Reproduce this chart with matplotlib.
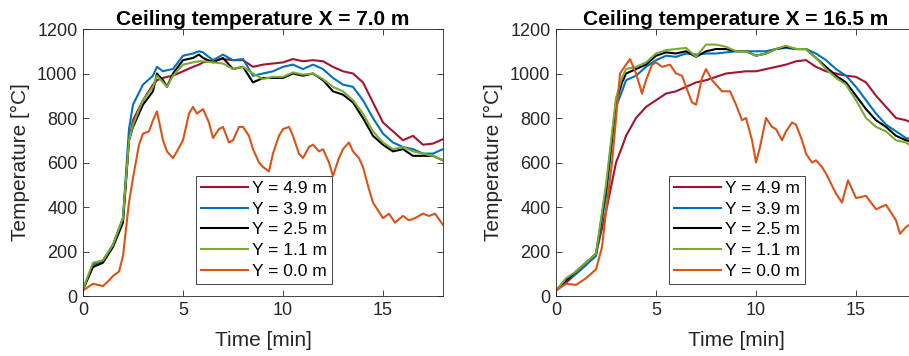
import matplotlib.pyplot as plt

plt.rcParams['font.family'] = ['Liberation Sans', 'DejaVu Sans']

# series labels and colours (MATLAB default palette)
labels = ['Y = 4.9 m', 'Y = 3.9 m', 'Y = 2.5 m', 'Y = 1.1 m', 'Y = 0.0 m']
colors = ['#A2142F', '#0072BD', '#000000', '#77AC30', '#D95319']

# ---- X = 7.0 m ----
t_a = [0, 0.5, 1, 1.5, 2, 2.3, 2.5, 3, 3.5, 3.7, 4, 4.2, 4.5, 5, 5.5, 5.8, 6, 6.5, 7, 7.5, 8, 8.5,
       9, 9.5, 10, 10.5, 11, 11.5, 12, 12.5, 13, 13.5, 14, 14.5, 15, 15.5, 16, 16.5, 17, 17.5, 18]
a_49 = [30, 140, 160, 230, 350, 700, 790, 880, 950, 970, 980, 985, 990, 1010, 1030, 1040, 1050, 1060, 1065, 1060, 1060, 1030,
        1040, 1045, 1050, 1065, 1055, 1060, 1055, 1030, 1010, 1000, 960, 870, 780, 740, 700, 720, 680, 685, 705]
a_39 = [30, 140, 160, 230, 350, 750, 860, 950, 990, 1030, 1010, 1015, 1020, 1080, 1090, 1100, 1095, 1060, 1085, 1060, 1065, 990,
        1000, 1010, 1030, 1040, 1020, 1040, 1020, 980, 950, 940, 880, 800, 730, 690, 670, 660, 640, 640, 660]
a_25 = [30, 130, 150, 220, 330, 700, 760, 860, 920, 1000, 970, 940, 1000, 1060, 1070, 1085, 1070, 1050, 1070, 1020, 1030, 960,
        980, 980, 980, 1000, 990, 1000, 970, 920, 905, 870, 800, 720, 680, 650, 660, 630, 630, 630, 610]
a_11 = [30, 150, 160, 230, 350, 700, 770, 880, 940, 990, 960, 940, 990, 1040, 1050, 1055, 1055, 1050, 1045, 1020, 1030, 1000,
        975, 985, 985, 1005, 995, 1000, 975, 940, 920, 880, 820, 740, 690, 660, 670, 650, 640, 630, 610]
t_a0 = [0, 0.5, 1, 1.3, 1.5, 1.8, 2, 2.3, 2.5, 2.8, 3, 3.3, 3.5, 3.7, 4, 4.2, 4.5, 4.7, 5, 5.3, 5.5, 5.7, 6,
        6.3, 6.5, 6.8, 7, 7.3, 7.5, 7.8, 8, 8.3, 8.5, 8.8, 9, 9.3, 9.5, 9.8, 10, 10.3, 10.5, 10.8, 11,
        11.3, 11.5, 11.8, 12, 12.3, 12.5, 12.8, 13, 13.3, 13.5, 13.8, 14, 14.3, 14.5, 15, 15.3, 15.6, 16,
        16.3, 16.6, 17, 17.3, 17.6, 18]
a_00 = [25, 55, 45, 70, 90, 110, 180, 420, 530, 680, 730, 740, 790, 830, 700, 650, 620, 650, 700, 820, 850, 820, 840,
        780, 710, 750, 760, 690, 700, 760, 760, 720, 660, 600, 580, 560, 640, 720, 750, 760, 720, 640, 620,
        670, 680, 650, 660, 600, 540, 620, 660, 690, 650, 620, 580, 480, 420, 350, 370, 330, 360,
        340, 350, 370, 360, 370, 320]

# ---- X = 16.5 m ----
t_b = [0, 0.5, 1, 1.5, 2, 2.5, 3, 3.3, 3.5, 4, 4.5, 5, 5.5, 6, 6.5, 7, 7.5, 8, 8.5, 9, 9.5, 10,
       10.5, 11, 11.5, 12, 12.5, 13, 13.5, 14, 14.5, 15, 15.5, 16, 16.5, 17, 17.5, 18]
b_49 = [25, 60, 100, 140, 190, 380, 600, 670, 720, 800, 850, 880, 910, 920, 940, 960, 970, 985, 1000, 1005, 1010, 1010,
        1020, 1030, 1040, 1055, 1060, 1030, 1010, 1000, 990, 985, 960, 900, 850, 800, 790, 770]
b_39 = [25, 70, 100, 140, 180, 450, 850, 920, 970, 990, 1030, 1060, 1080, 1075, 1090, 1085, 1090, 1090, 1095, 1100, 1100, 1100,
        1100, 1110, 1115, 1110, 1110, 1090, 1060, 1020, 990, 940, 880, 820, 770, 740, 710, 700]
b_25 = [25, 70, 110, 150, 190, 480, 870, 960, 1000, 1020, 1040, 1080, 1095, 1090, 1100, 1075, 1100, 1110, 1110, 1100, 1100, 1080,
        1090, 1110, 1120, 1110, 1110, 1070, 1030, 990, 960, 900, 840, 790, 760, 720, 700, 690]
b_11 = [25, 80, 110, 150, 190, 500, 890, 980, 1020, 1030, 1050, 1090, 1105, 1110, 1115, 1075, 1130, 1130, 1120, 1100, 1100, 1080,
        1090, 1110, 1125, 1110, 1110, 1070, 1020, 980, 950, 880, 800, 760, 740, 700, 690, 660]
t_b0 = [0, 0.5, 1, 1.5, 2, 2.3, 2.5, 2.8, 3, 3.2, 3.5, 3.7, 4, 4.3, 4.5, 4.8, 5, 5.3, 5.7, 6, 6.3, 6.5,
        6.8, 7, 7.3, 7.5, 7.8, 8, 8.3, 8.7, 9, 9.3, 9.5, 9.8, 10, 10.2, 10.5, 10.8, 11, 11.3, 11.5, 11.8,
        12, 12.3, 12.5, 12.8, 13, 13.3, 13.5, 14, 14.3, 14.6, 15, 15.5, 16, 16.5, 17, 17.2, 17.5, 18]
b_00 = [25, 55, 50, 80, 120, 220, 380, 600, 800, 1000, 1040, 1065, 1000, 910, 970, 1040, 1050, 1030, 1040, 1000, 990, 940,
        870, 860, 980, 1020, 970, 950, 920, 920, 860, 790, 800, 700, 600, 670, 800, 760, 750, 700, 740, 780,
        770, 700, 640, 600, 610, 580, 550, 460, 420, 520, 440, 450, 390, 410, 340, 280, 310, 340]

panels = [
    ('Ceiling temperature X = 7.0 m', [(t_a, a_49), (t_a, a_39), (t_a, a_25), (t_a, a_11), (t_a0, a_00)]),
    ('Ceiling temperature X = 16.5 m', [(t_b, b_49), (t_b, b_39), (t_b, b_25), (t_b, b_11), (t_b0, b_00)]),
]

fig = plt.figure(figsize=(9.09, 3.56), dpi=100)
ax_pos = [[0.0913, 0.1685, 0.396, 0.75], [0.6117, 0.1685, 0.396, 0.75]]
legend_anchor = [(0.314, 0.045), (0.314, 0.045)]

for pos, (title, series), anchor in zip(ax_pos, panels, legend_anchor):
    ax = fig.add_axes(pos)
    for (t, v), lab, c in zip(series, labels, colors):
        ax.plot(t, v, color=c, lw=1.5, label=lab)
    ax.set_xlim(0, 18)
    ax.set_ylim(0, 1200)
    ax.set_xticks([0, 5, 10, 15])
    ax.set_yticks(range(0, 1201, 200))
    ax.tick_params(direction='in', top=True, right=True, labelsize=13, colors='#262626',
                   length=4, width=0.6, pad=4)
    for s in ax.spines.values():
        s.set_color('#262626')
        s.set_linewidth(0.6)
    ax.set_title(title, fontsize=15, fontweight='bold', pad=3)
    ax.set_xlabel('Time [min]', fontsize=15, color='#262626', labelpad=9)
    ax.set_ylabel('Temperature [°C]', fontsize=15, color='#262626', labelpad=5)
    leg = ax.legend(loc='lower left', bbox_to_anchor=anchor, fontsize=12.5, fancybox=False,
                    framealpha=1, edgecolor='#262626', handlelength=2.7, handletextpad=0.2,
                    labelspacing=0.32, borderpad=0.3, borderaxespad=0)
    leg.get_frame().set_linewidth(0.6)

fig.savefig('out.png', dpi=100)
